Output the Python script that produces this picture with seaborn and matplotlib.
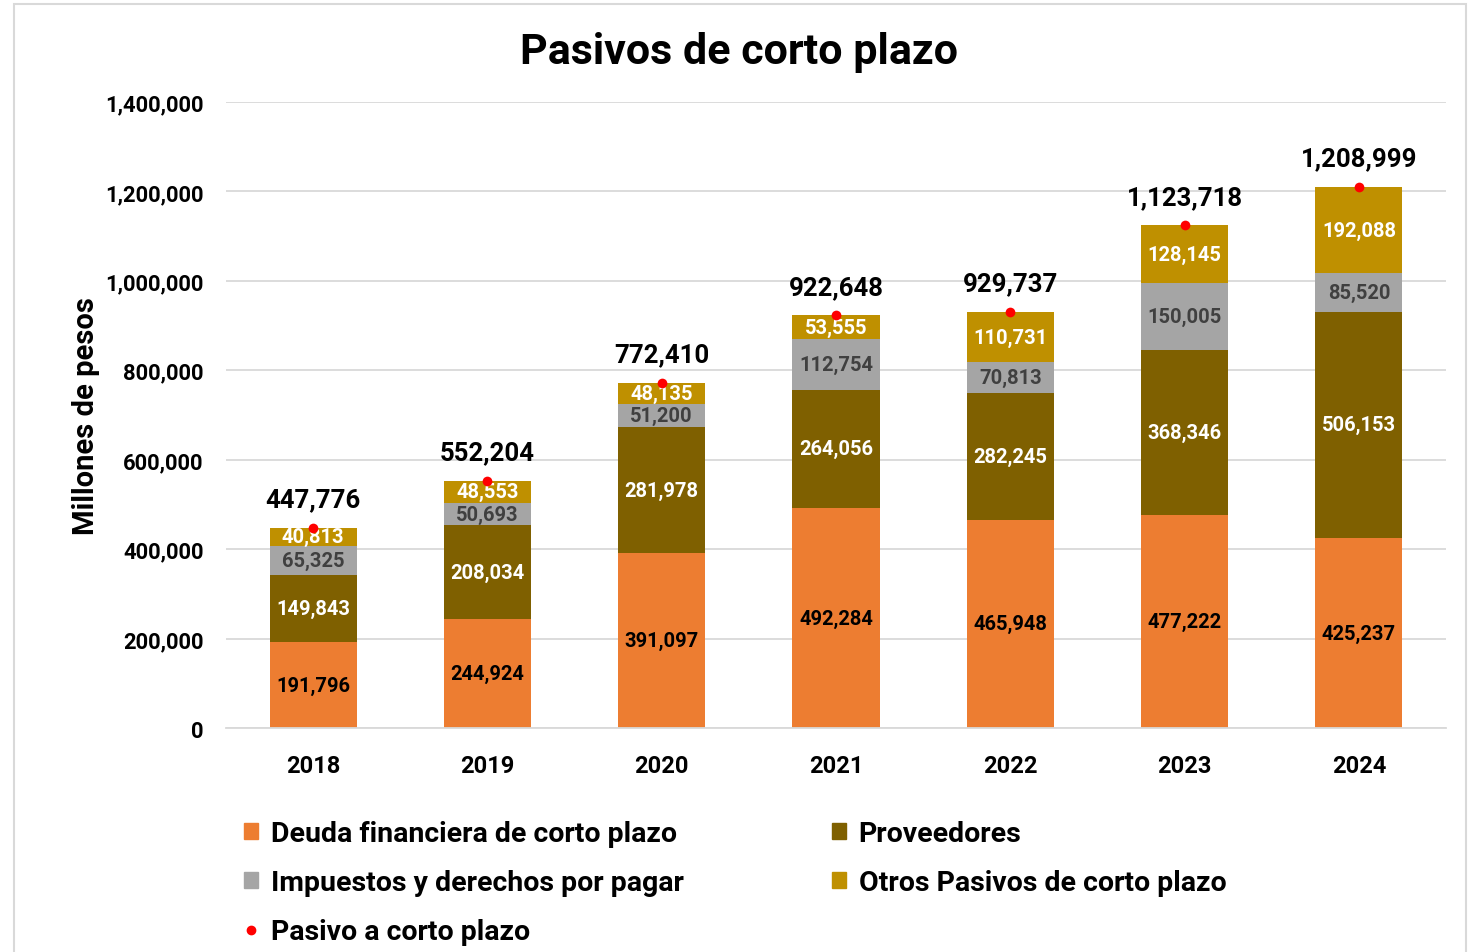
import matplotlib
matplotlib.use("Agg")
import matplotlib.pyplot as plt
from matplotlib.patches import Patch, Rectangle
from matplotlib.lines import Line2D
import numpy as np
import seaborn as sns

years = ['2018', '2019', '2020', '2021', '2022', '2023', '2024']
deuda = [191796, 244924, 391097, 492284, 465948, 477222, 425237]
proveedores = [149843, 208034, 281978, 264056, 282245, 368346, 506153]
impuestos = [65325, 50693, 51200, 112754, 70813, 150005, 85520]
otros = [40813, 48553, 48135, 53555, 110731, 128145, 192088]
totales = [447776, 552204, 772410, 922648, 929737, 1123718, 1208999]

nombres = ['Deuda financiera de corto plazo', 'Proveedores',
           'Impuestos y derechos por pagar', 'Otros Pasivos de corto plazo']
colores = ['#ED7D31', '#7F6000', '#A5A5A5', '#BF9000']
col_texto = ['black', 'white', '#404040', 'white']

sns.set_style("white")
plt.rcParams['font.family'] = ['Roboto', 'DejaVu Sans']
plt.rcParams['font.weight'] = 'bold'
plt.rcParams['text.color'] = 'black'
plt.rcParams['xtick.color'] = 'black'
plt.rcParams['ytick.color'] = 'black'
plt.rcParams['axes.labelcolor'] = 'black'

fig = plt.figure(figsize=(14.73, 9.53), dpi=100)
ax = fig.add_axes([0.1534, 0.235, 0.8283, 0.657])

series = [deuda, proveedores, impuestos, otros]
acum = np.cumsum(np.array(series), axis=0)

# stacked bars: draw the tallest first, then overlay the smaller sums
for i in range(3, -1, -1):
    sns.barplot(x=years, y=acum[i], color=colores[i], width=0.5,
                saturation=1, ax=ax, zorder=2, linewidth=0)

for i in range(4):
    base = acum[i] - np.array(series[i])
    for j, v in enumerate(series[i]):
        ax.text(j, base[j] + v / 2, f"{v:,}", ha='center', va='center',
                fontsize=14.5, fontweight='bold', color=col_texto[i], zorder=4)

sns.stripplot(x=years, y=totales, jitter=False, color='red', size=7,
              ax=ax, zorder=5, legend=False)

for j, t in enumerate(totales):
    ax.annotate(f"{t:,}", (j, t), xytext=(0, 12), textcoords='offset points',
                ha='center', va='bottom', fontsize=18.5, fontweight='bold')

ax.set_ylim(0, 1400000)
ax.set_xlim(-0.5, 6.5)
ax.set_yticks(np.arange(0, 1400001, 200000))
ax.yaxis.set_major_formatter(matplotlib.ticker.FuncFormatter(lambda v, p: f"{int(v):,}"))
ax.grid(axis='y', color='#D9D9D9', linewidth=1.3, zorder=0)
ax.set_axisbelow(True)
for s in ['top', 'right', 'left']:
    ax.spines[s].set_visible(False)
ax.spines['bottom'].set_color('#D9D9D9')
ax.spines['bottom'].set_linewidth(1.3)
ax.tick_params(axis='y', length=0, pad=16, labelsize=15.8)
ax.tick_params(axis='x', length=0, pad=19, labelsize=17)
ax.set_xlabel('')
ax.set_ylabel('Millones de pesos', fontsize=21, fontweight='bold')
ax.yaxis.set_label_coords(-0.103, 0.5)

fig.text(0.502, 0.945, 'Pasivos de corto plazo', ha='center', va='center',
         fontsize=31, fontweight='bold')

handles = [Patch(color=colores[0]), Patch(color=colores[2]),
           Line2D([], [], marker='o', color='red', linestyle='none', markersize=6),
           Patch(color=colores[1]), Patch(color=colores[3])]
labels = [nombres[0], nombres[2], 'Pasivo a corto plazo', nombres[1], nombres[3]]
fig.legend(handles, labels, ncol=2, loc='upper left', bbox_to_anchor=(0.148, 0.165),
           frameon=False, fontsize=20.5, handlelength=0.5, handleheight=0.5,
           handletextpad=0.45, columnspacing=5.2, labelspacing=0.76)

fig.patches.append(Rectangle((14 / 1473, -0.02), 1452 / 1473, 1.02 - 5 / 953,
                             transform=fig.transFigure, fill=False,
                             edgecolor='#D9D9D9', linewidth=1.5))

fig.savefig('out.png', dpi=100)
